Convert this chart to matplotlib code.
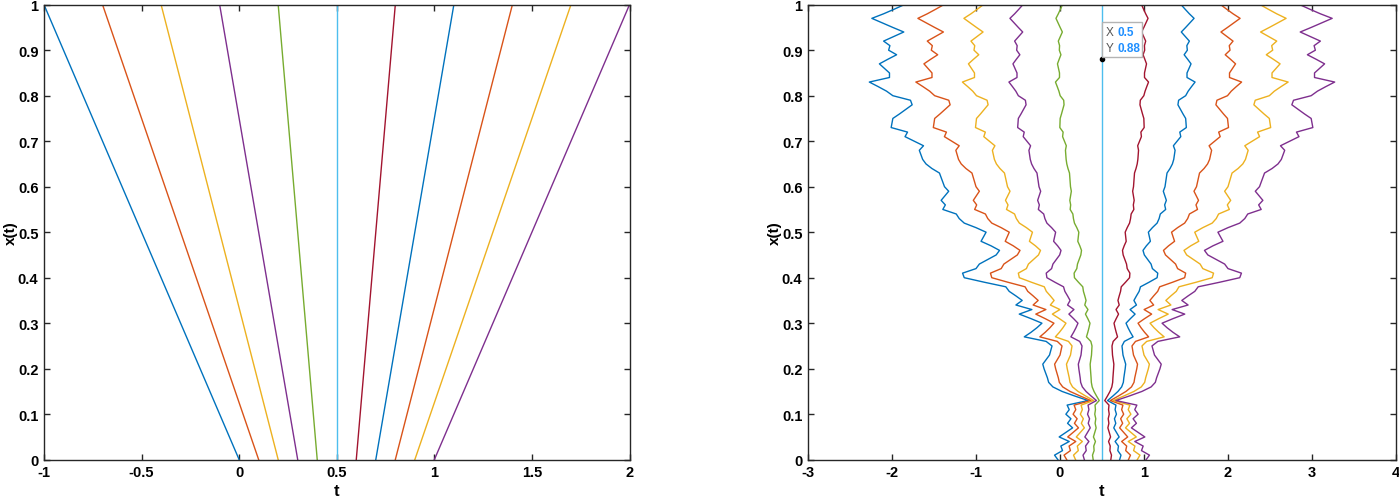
import numpy as np
import matplotlib
matplotlib.use("Agg")
import matplotlib.pyplot as plt
from matplotlib.patches import Rectangle

plt.rcParams['font.family'] = ['Liberation Sans Narrow', 'Liberation Sans', 'DejaVu Sans']
plt.rcParams['axes.unicode_minus'] = False

# MATLAB default colour order
COLORS = ["#0072BD", "#D95319", "#EDB120", "#7E2F8E", "#77AC30", "#4DBEEE", "#A2142F"]

# --- left panel: straight characteristics, start t at x=0, end t at x=1
t_start = [0.0, 0.1, 0.2, 0.3, 0.4, 0.5, 0.6, 0.7, 0.8, 0.9, 1.0]
t_end   = [-1.0, -0.7, -0.4, -0.1, 0.2, 0.5, 0.8, 1.1, 1.4, 1.7, 2.0]

# --- right panel: noisy characteristics
# x levels (vertical axis) and the spread factor:
# each curve sits at t = 0.5 + (t_start - 0.5) * spread
x_levels = [round(0.01 * i, 2) for i in range(101)]
spread = [
    1.05, 1.13, 0.94, 0.98, 0.78, 1.02, 0.86, 0.70, 0.82, 0.74,   # 0.00-0.09
    0.86, 0.78, 0.83, 0.33, 0.65, 0.95, 1.17, 1.27, 1.30, 1.34,   # 0.10-0.19
    1.38, 1.41, 1.33, 1.25, 1.22, 1.19, 1.33, 1.85, 1.69, 1.55,   # 0.20-0.29
    1.43, 1.69, 1.97, 1.67, 2.05, 1.90, 2.05, 2.21, 2.29, 2.80,   # 0.30-0.39
    3.28, 3.32, 3.00, 2.92, 2.72, 2.52, 2.44, 2.64, 2.88, 2.82,   # 0.40-0.49
    2.76, 3.00, 3.28, 3.40, 3.47, 3.79, 3.73, 3.83, 3.74, 3.65,   # 0.50-0.59
    3.75, 3.79, 3.83, 3.87, 4.05, 4.19, 4.27, 4.31, 4.35, 4.25,   # 0.60-0.69
    4.47, 4.69, 4.63, 5.02, 5.00, 4.98, 4.82, 4.67, 4.52, 4.56,   # 0.70-0.79
    4.98, 5.13, 5.33, 5.54, 5.06, 5.06, 5.18, 5.30, 5.10, 4.89,   # 0.80-0.89
    5.08, 5.05, 5.20, 4.96, 4.72, 4.98, 5.23, 5.48, 5.20, 4.95,   # 0.90-0.99
    4.71,                                                         # 1.00
]

tip_t, tip_x = 0.5, 0.88

left_xticks = [-1, -0.5, 0, 0.5, 1, 1.5, 2]
left_xlabels = ["-1", "-0.5", "0", "0.5", "1", "1.5", "2"]
right_xticks = [-3, -2, -1, 0, 1, 2, 3, 4]
yticks = [round(0.1 * i, 1) for i in range(11)]
ylabels = ["0"] + [f"{v:g}" for v in yticks[1:-1]] + ["1"]

fig = plt.figure(figsize=(13.99, 5.02), dpi=100)
axL = fig.add_axes([44 / 1399, 41.3 / 502, (629.5 - 44) / 1399, 455 / 502])
axR = fig.add_axes([808 / 1399, 41.3 / 502, (1396 - 808) / 1399, 455 / 502])

xl = np.array([0.0, 1.0])
for i, (a, b) in enumerate(zip(t_start, t_end)):
    axL.plot([a, b], xl, color=COLORS[i % 7], lw=1.0)

sp = np.array(spread)
for i, a in enumerate(t_start):
    axR.plot(0.5 + (a - 0.5) * sp, x_levels, color=COLORS[i % 7], lw=1.0)

def style(ax, xticks, xlabels, xlim):
    ax.set_xlim(*xlim)
    ax.set_ylim(0, 1)
    ax.set_xticks(xticks)
    ax.set_xticklabels(xlabels)
    ax.set_yticks(yticks)
    ax.set_yticklabels(ylabels)
    ax.tick_params(direction="in", length=4, width=1, top=True, right=True,
                   labelsize=10.5, colors="#262626", pad=4)
    for lab in ax.get_xticklabels() + ax.get_yticklabels():
        lab.set_fontweight("bold")
        lab.set_color("black")
    for s in ax.spines.values():
        s.set_color("#262626")
        s.set_linewidth(1.0)
    ax.set_xlabel("t", fontsize=12, fontweight="bold", labelpad=3)
    ax.set_ylabel("x(t)", fontsize=11, fontweight="bold")
    ax.yaxis.set_label_coords(-0.045, 0.5)

style(axL, left_xticks, left_xlabels, (-1, 2))
style(axR, right_xticks, [str(v) for v in right_xticks], (-3, 4))

# data tip
axR.plot([tip_t], [tip_x], "o", color="black", ms=3, zorder=6)
box = Rectangle((0.505, 0.885), 0.47, 0.076, facecolor="white", edgecolor="#b0b0b0",
                lw=1.0, alpha=0.95, zorder=7)
axR.add_patch(box)
axR.text(0.55, 0.941, "X", color="#555555", fontsize=8.5, va="center", zorder=8)
axR.text(0.69, 0.941, f"{tip_t:g}", color="#1f8fff", fontsize=8.5, fontweight="bold",
         va="center", zorder=8)
axR.text(0.55, 0.905, "Y", color="#555555", fontsize=8.5, va="center", zorder=8)
axR.text(0.69, 0.905, f"{tip_x:g}", color="#1f8fff", fontsize=8.5, fontweight="bold",
         va="center", zorder=8)

fig.savefig("out.png", dpi=100)
